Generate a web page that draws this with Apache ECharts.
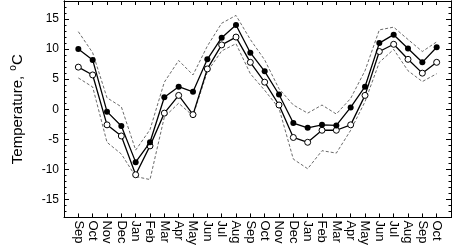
<!DOCTYPE html>
<html><head><meta charset="utf-8">
<script src="https://cdn.jsdelivr.net/npm/echarts@6/dist/echarts.min.js"></script>
<style>html,body{margin:0;padding:0;background:#fff}#c{width:452px;height:248px}</style>
</head><body><div id="c"></div>
<script>
const months = ['Sep','Oct','Nov','Dec','Jan','Feb','Mar','Apr','May','Jun','Jul','Aug','Sep','Oct','Nov','Dec','Jan','Feb','Mar','Apr','May','Jun','Jul','Aug','Sep','Oct'];
const filledVals = [10.0, 8.2, -0.4, -2.8, -8.8, -5.5, 2.0, 3.75, 2.9, 8.3, 11.9, 14.0, 9.4, 6.3, 2.45, -2.3, -3.1, -2.6, -2.7, 0.3, 3.75, 11.0, 12.4, 10.1, 7.8, 10.3];
const openVals = [7.0, 5.7, -2.6, -4.45, -10.9, -6.1, -0.65, 2.3, -0.9, 6.7, 10.7, 12.0, 7.8, 4.5, 0.7, -4.7, -5.5, -3.5, -3.5, -2.6, 2.3, 9.6, 10.8, 8.3, 6.0, 7.8];
const upperVals = [12.9, 9.4, 1.9, 0.4, -6.8, -3.4, 4.5, 8.1, 5.7, 10.5, 14.3, 15.6, 11.6, 8.2, 3.4, 0.7, -0.65, 0.7, -0.8, 1.8, 6.4, 13.2, 13.65, 11.6, 9.6, 11.2];
const lowerVals = [5.2, 3.7, -5.5, -7.45, -11.2, -11.7, -1.3, 1.0, -1.1, 6.25, 9.7, 10.9, 5.9, 3.15, 0.16, -8.3, -9.9, -6.9, -7.3, -3.5, 1.25, 7.8, 9.95, 6.4, 4.6, 5.9];
const yMajorTicks = [-15, -10, -5, 0, 5, 10, 15];
const yMinorTicks = [];
for (let v = -18; v <= 18; v++) yMinorTicks.push(v);

const pts = arr => arr.map((v, i) => [i, v]);
const font = 'Liberation Sans, Arial, sans-serif';

const chart = echarts.init(document.getElementById('c'), null, {renderer: 'canvas'});
const xBase = {type: 'value', min: -1, max: 26, interval: 1, splitLine: {show: false},
  axisLine: {show: true, onZero: false, lineStyle: {color: '#000', width: 1}},
  axisTick: {show: true, inside: true, length: 4, lineStyle: {color: '#000'}}};
const yBase = {type: 'value', min: -18, max: 18, splitLine: {show: false},
  axisLine: {show: true, onZero: false, lineStyle: {color: '#000', width: 1}}};

chart.setOption({
  animation: false,
  grid: {left: 41, right: 1, top: 1, bottom: 26, containLabel: false},
  xAxis: [
    Object.assign({}, xBase, {position: 'bottom',
      axisLabel: {show: true, rotate: -90, margin: 3, color: '#000', fontFamily: font, fontSize: 13,
        formatter: v => (months[v] !== undefined ? months[v] : '')}}),
    Object.assign({}, xBase, {position: 'top', axisLabel: {show: false}})
  ],
  yAxis: [
    Object.assign({}, yBase, {position: 'left',
      name: '{a|Temperature, }{s|o}{a|C}', nameLocation: 'middle', nameGap: 37, nameRotate: 90,
      nameTextStyle: {color: '#000', fontFamily: font, fontSize: 15,
        rich: {a: {fontSize: 15, fontFamily: font, color: '#000'},
               s: {fontSize: 10, fontFamily: font, color: '#000', padding: [0, 0, 9, 1]}}},
      axisTick: {show: true, inside: true, length: 5, customValues: yMajorTicks, lineStyle: {color: '#000'}},
      axisLabel: {show: true, margin: 5, color: '#000', fontFamily: font, fontSize: 12, customValues: yMajorTicks}}),
    Object.assign({}, yBase, {position: 'left',
      axisTick: {show: true, inside: true, length: 2.5, customValues: yMinorTicks, lineStyle: {color: '#000'}},
      axisLabel: {show: false}}),
    Object.assign({}, yBase, {position: 'right',
      axisTick: {show: true, inside: true, length: 5, customValues: yMajorTicks, lineStyle: {color: '#000'}},
      axisLabel: {show: false}}),
    Object.assign({}, yBase, {position: 'right',
      axisTick: {show: true, inside: true, length: 2.5, customValues: yMinorTicks, lineStyle: {color: '#000'}},
      axisLabel: {show: false}})
  ],
  series: [
    {type: 'line', data: pts(upperVals), showSymbol: false, symbol: 'none',
      lineStyle: {color: '#444', width: 0.8, type: [3, 2]}, z: 1},
    {type: 'line', data: pts(lowerVals), showSymbol: false, symbol: 'none',
      lineStyle: {color: '#444', width: 0.8, type: [3, 2]}, z: 1},
    {type: 'line', data: pts(openVals), symbol: 'circle', symbolSize: 6,
      itemStyle: {color: '#fff', borderColor: '#000', borderWidth: 1},
      lineStyle: {color: '#000', width: 1.3}, z: 2},
    {type: 'line', data: pts(filledVals), symbol: 'circle', symbolSize: 6,
      itemStyle: {color: '#000', borderColor: '#000', borderWidth: 0},
      lineStyle: {color: '#000', width: 1.3}, z: 3}
  ]
});
</script></body></html>
